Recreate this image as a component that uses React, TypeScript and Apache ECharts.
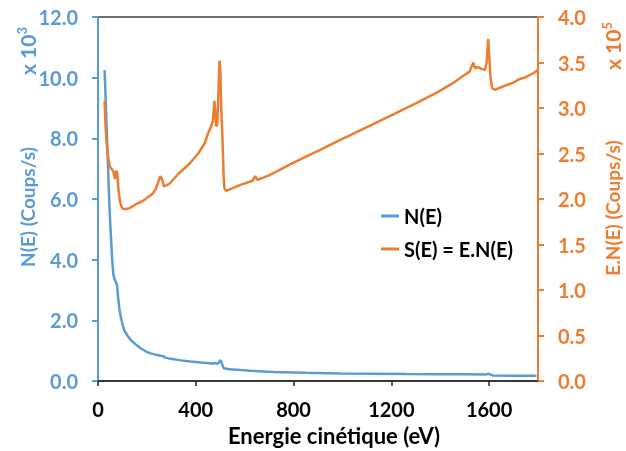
import React, { useEffect, useRef } from "react";
import * as echarts from "echarts";

// N(E) series (x 10^3 counts/s) vs kinetic energy (eV)
const nEnergy = [27, 33, 40, 46, 52, 58, 63, 68, 74, 78, 82, 87, 93, 100, 107, 120, 134, 155, 174, 195, 215, 235, 256, 266, 275, 297, 340, 378, 420, 470, 480, 488, 495, 500, 504, 508, 514, 540, 584, 623, 719, 850, 991, 1130, 1263, 1400, 1500, 1590, 1597, 1603, 1617, 1700, 1794];
const nValues = [10.25, 8.9, 7.3, 5.9, 4.9, 4.0, 3.5, 3.35, 3.25, 3.15, 2.78, 2.4, 2.12, 1.88, 1.68, 1.5, 1.35, 1.2, 1.08, 0.98, 0.91, 0.87, 0.83, 0.82, 0.77, 0.73, 0.68, 0.64, 0.61, 0.58, 0.59, 0.57, 0.61, 0.69, 0.64, 0.55, 0.42, 0.39, 0.36, 0.34, 0.3, 0.27, 0.25, 0.24, 0.23, 0.225, 0.22, 0.215, 0.24, 0.22, 0.18, 0.175, 0.17];

// S(E) = E.N(E) series (x 10^5 counts/s)
const sEnergy = [27, 30, 35, 42, 49, 56, 62, 66, 69, 73, 76, 79, 84, 90, 97, 103, 115, 130, 160, 184, 210, 224, 238, 248, 255, 262, 269, 280, 293, 330, 375, 410, 436, 450, 460, 470, 476, 480, 483, 488, 493, 497, 500, 504, 509, 514, 517, 524, 578, 632, 643, 652, 700, 800, 900, 1000, 1100, 1200, 1300, 1393, 1450, 1487, 1520, 1535, 1542, 1555, 1568, 1583, 1590, 1596, 1600, 1605, 1612, 1623, 1660, 1700, 1718, 1750, 1786, 1800];
const sValues = [3.08, 2.85, 2.62, 2.45, 2.35, 2.33, 2.3, 2.27, 2.22, 2.3, 2.31, 2.28, 2.1, 1.97, 1.91, 1.89, 1.89, 1.9, 1.95, 1.98, 2.03, 2.06, 2.12, 2.2, 2.25, 2.22, 2.14, 2.15, 2.17, 2.28, 2.39, 2.5, 2.61, 2.72, 2.78, 2.86, 3.08, 2.95, 2.8, 2.82, 3.2, 3.52, 3.45, 3.0, 2.68, 2.25, 2.12, 2.09, 2.15, 2.2, 2.25, 2.21, 2.26, 2.4, 2.53, 2.66, 2.79, 2.92, 3.05, 3.18, 3.27, 3.34, 3.4, 3.5, 3.44, 3.45, 3.43, 3.42, 3.5, 3.76, 3.6, 3.35, 3.22, 3.2, 3.24, 3.28, 3.31, 3.34, 3.39, 3.42];

const seriesNames = ["N(E)", "S(E) = E.N(E)"];
const xTitle = "Energie cinétique (eV)";
const leftTitle = "N(E) (Coups/s)";
const rightTitle = "E.N(E) (Coups/s)";

const BLUE = "#5B9BD5";
const ORANGE = "#ED7D31";
const FONT = "Lato";

export default function App() {
  const ref = useRef<HTMLDivElement>(null);
  useEffect(() => {
    if (!ref.current) return;
    const chart = echarts.init(ref.current, undefined, { renderer: "svg" });
    const nData = nEnergy.map((e, i) => [e, nValues[i]]);
    const sData = sEnergy.map((e, i) => [e, sValues[i]]);
    const supRich = (color: string) => ({
      s: { fontFamily: FONT, fontWeight: "bold", fontSize: 13, fill: color, verticalAlign: "top", lineHeight: 24 },
    });
    chart.setOption({
      animation: false,
      textStyle: { fontFamily: FONT },
      grid: {
        left: 98,
        right: 88,
        top: 17,
        bottom: 70,
        show: true,
        borderColor: "#404040",
        borderWidth: 1.5,
      },
      legend: {
        orient: "vertical",
        left: 376,
        top: 201,
        itemWidth: 18,
        itemHeight: 3,
        itemGap: 13,
        itemStyle: {},
        icon: "rect",
        textStyle: { fontFamily: FONT, fontWeight: "bold", fontSize: 20, color: "#000" },
        data: seriesNames,
      },
      xAxis: {
        type: "value",
        min: 0,
        max: 1800,
        interval: 400,
        splitLine: { show: false },
        axisLine: { lineStyle: { color: "#262626", width: 1.5 } },
        axisTick: { show: true, inside: false, length: 5, lineStyle: { color: "#262626", width: 1.5 } },
        axisLabel: {
          showMaxLabel: false,
          margin: 18,
          formatter: (v: number) => String(v),
          fontFamily: FONT,
          fontWeight: "bold",
          fontSize: 20,
          color: "#000",
        },
      },
      yAxis: [
        {
          type: "value",
          min: 0,
          max: 12,
          interval: 2,
          position: "left",
          splitLine: { show: false },
          axisLine: { show: true, lineStyle: { color: BLUE, width: 2 } },
          axisTick: { show: true, length: 6, lineStyle: { color: BLUE, width: 2 } },
          axisLabel: {
            margin: 20,
            formatter: (v: number) => v.toFixed(1),
            fontFamily: FONT,
            fontWeight: "bold",
            fontSize: 20,
            color: BLUE,
          },
        },
        {
          type: "value",
          min: 0,
          max: 4,
          interval: 0.5,
          position: "right",
          splitLine: { show: false },
          axisLine: { show: true, lineStyle: { color: ORANGE, width: 2 } },
          axisTick: { show: true, length: 6, lineStyle: { color: ORANGE, width: 2 } },
          axisLabel: {
            margin: 20,
            formatter: (v: number) => v.toFixed(1),
            fontFamily: FONT,
            fontWeight: "bold",
            fontSize: 20,
            color: ORANGE,
          },
        },
      ],
      series: [
        {
          name: seriesNames[0],
          type: "line",
          yAxisIndex: 0,
          data: nData,
          symbol: "none",
          lineStyle: { color: BLUE, width: 2.5 },
          itemStyle: { color: BLUE },
        },
        {
          name: seriesNames[1],
          type: "line",
          yAxisIndex: 1,
          data: sData,
          symbol: "none",
          lineStyle: { color: ORANGE, width: 2.5 },
          itemStyle: { color: ORANGE },
        },
      ],
      graphic: [
        {
          type: "text",
          x: 334,
          y: 435,
          style: {
            text: xTitle,
            fontFamily: FONT,
            fontWeight: "bold",
            fontSize: 22,
            fill: "#000",
            align: "center",
            verticalAlign: "middle",
          },
        },
        {
          type: "text",
          x: 27,
          y: 207,
          rotation: Math.PI / 2,
          style: {
            text: leftTitle,
            fontFamily: FONT,
            fontWeight: "bold",
            fontSize: 19,
            fill: BLUE,
            align: "center",
            verticalAlign: "middle",
          },
        },
        {
          type: "text",
          x: 27,
          y: 51,
          rotation: Math.PI / 2,
          style: {
            text: "x 10{s|3}",
            fontFamily: FONT,
            fontWeight: "bold",
            fontSize: 21,
            fill: BLUE,
            align: "center",
            verticalAlign: "middle",
            rich: supRich(BLUE),
          },
        },
        {
          type: "text",
          x: 612,
          y: 208,
          rotation: Math.PI / 2,
          style: {
            text: rightTitle,
            fontFamily: FONT,
            fontWeight: "bold",
            fontSize: 19,
            fill: ORANGE,
            align: "center",
            verticalAlign: "middle",
          },
        },
        {
          type: "text",
          x: 612,
          y: 46,
          rotation: Math.PI / 2,
          style: {
            text: "x 10{s|5}",
            fontFamily: FONT,
            fontWeight: "bold",
            fontSize: 21,
            fill: ORANGE,
            align: "center",
            verticalAlign: "middle",
            rich: supRich(ORANGE),
          },
        },
      ],
    });
    return () => chart.dispose();
  }, []);
  return (
    <div
      ref={ref}
      style={{ position: "fixed", left: 0, top: 0, width: 626, height: 451 }}
    />
  );
}
